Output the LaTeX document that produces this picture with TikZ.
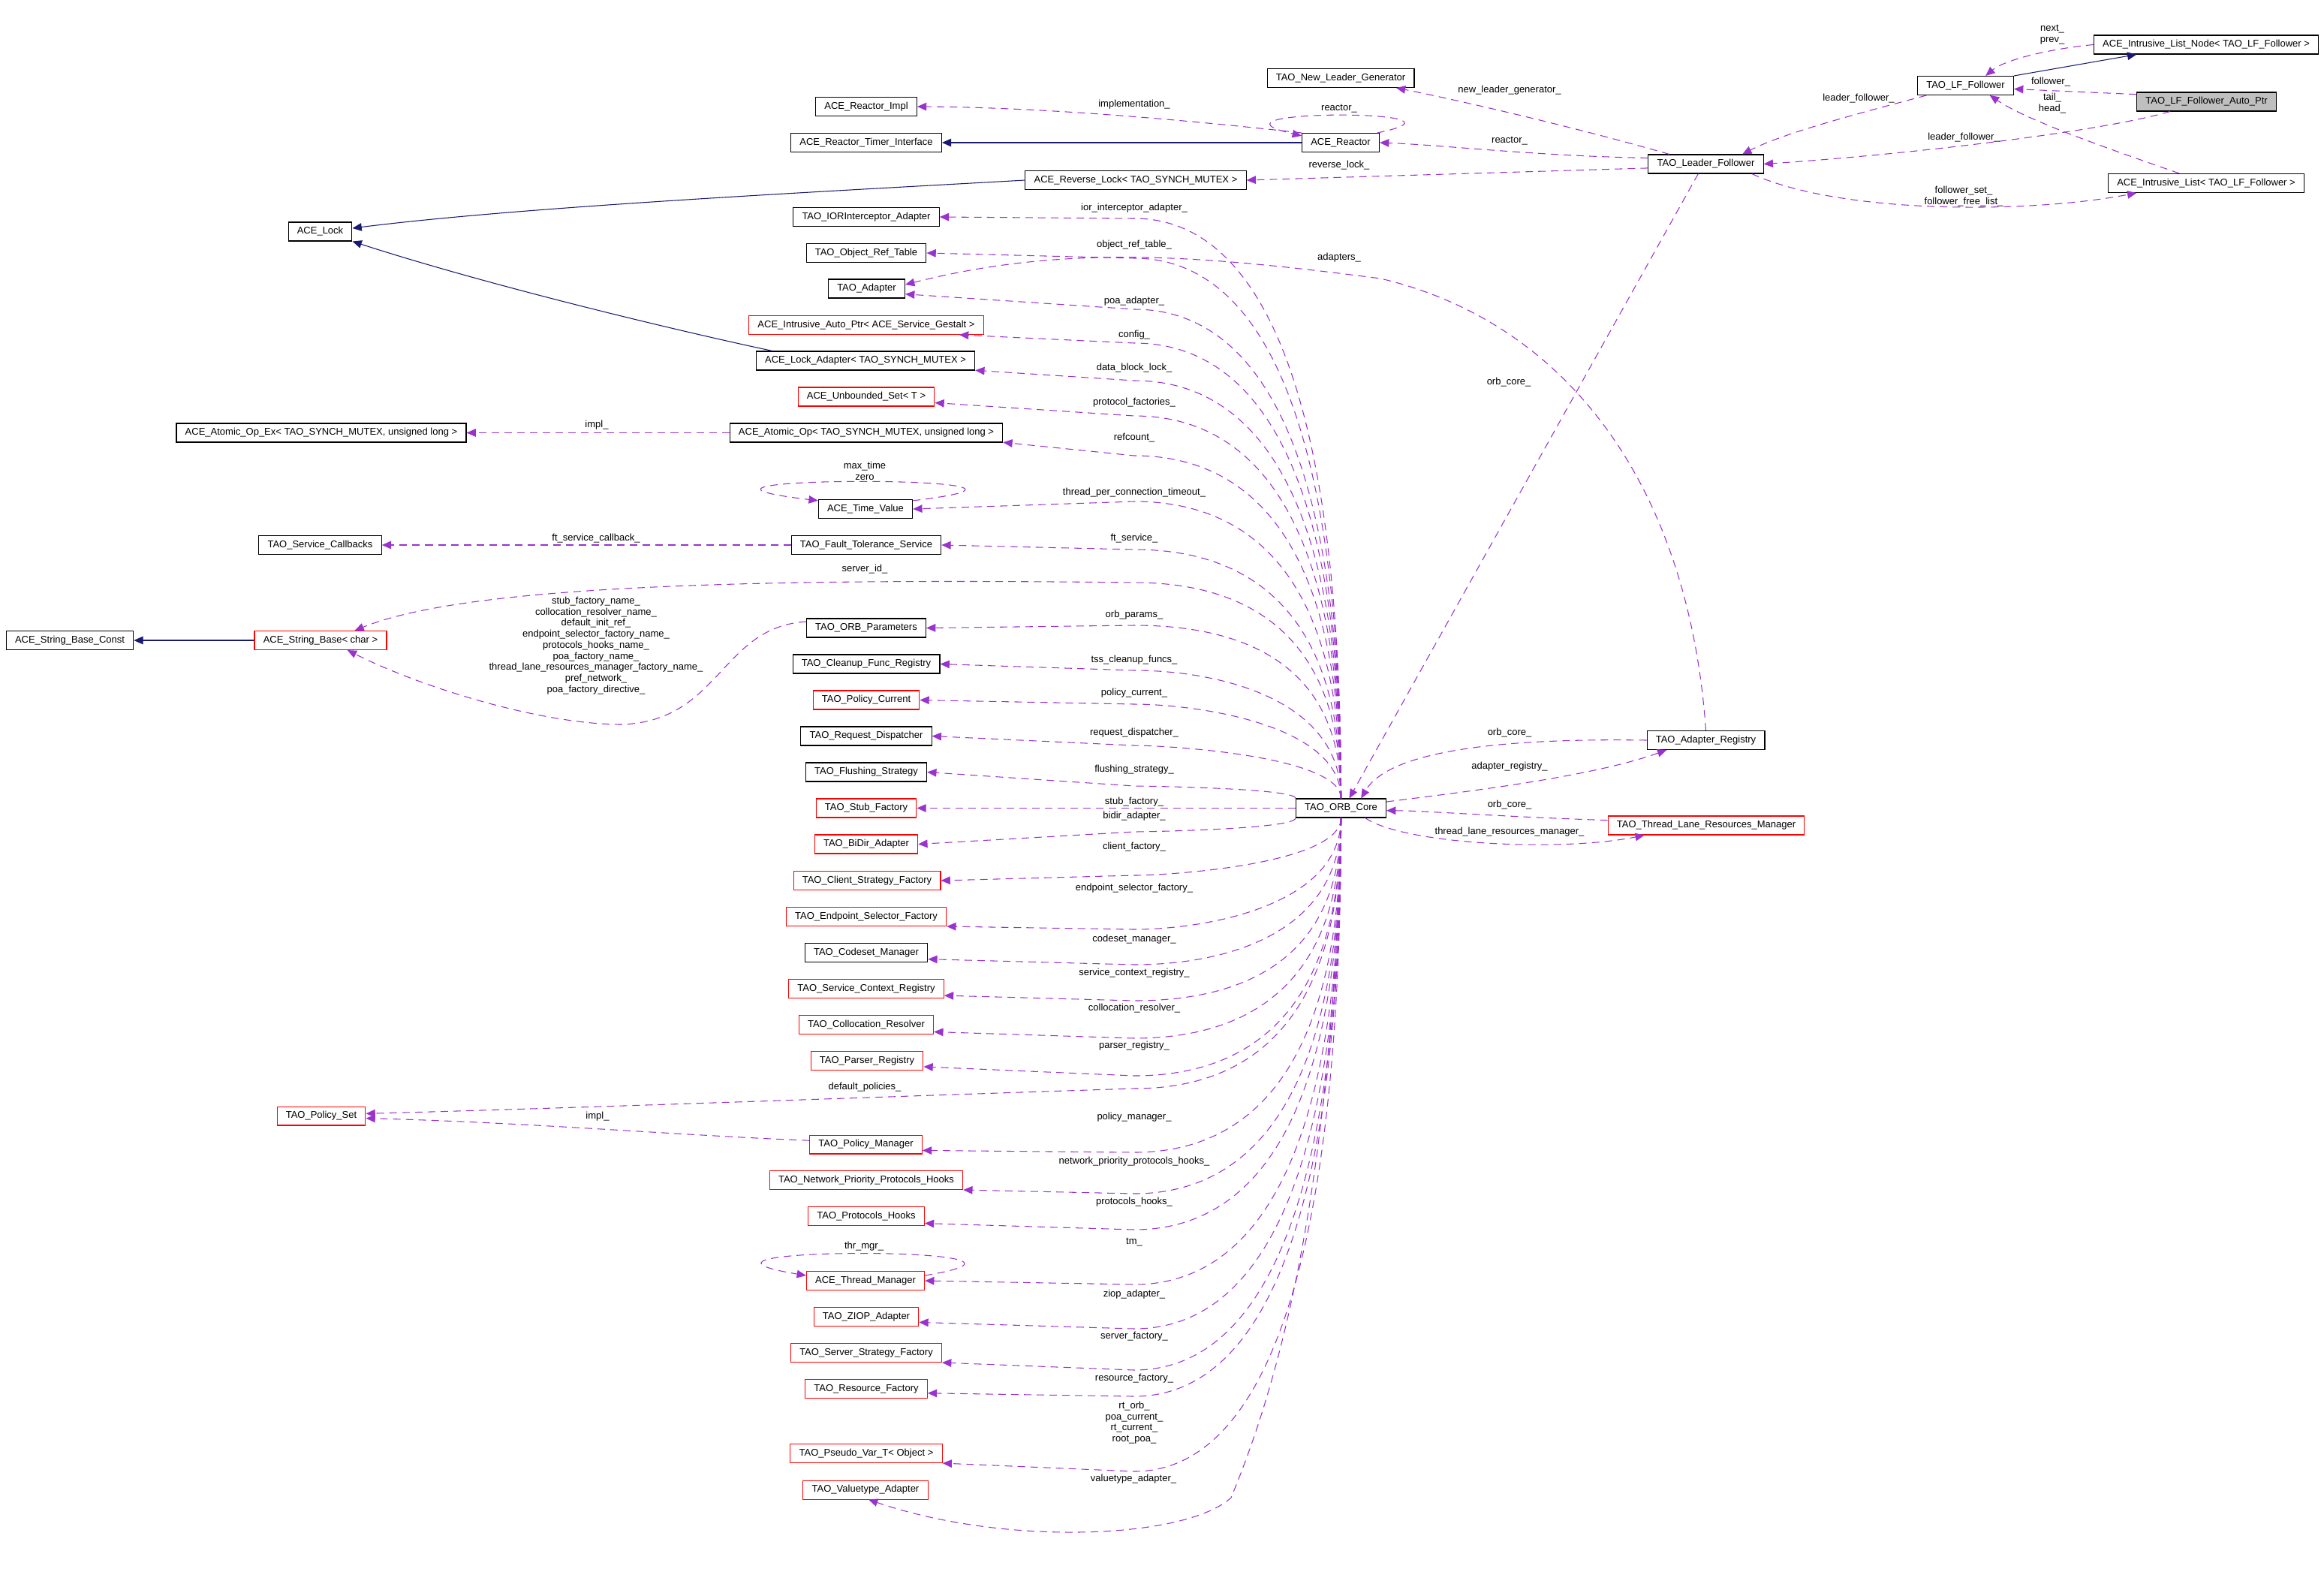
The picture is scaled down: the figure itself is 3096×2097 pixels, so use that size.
\documentclass[tikz,border=0pt]{standalone}
\usepackage{fontspec}
\setmainfont{Liberation Sans}
\usetikzlibrary{arrows.meta}
\definecolor{edgepurple}{RGB}{154,50,205}
\definecolor{inhblue}{RGB}{25,25,112}
\definecolor{nodegray}{RGB}{191,191,191}
\begin{document}
\begin{tikzpicture}[x=0.02cm,y=-0.02cm,
    every node/.style={font=\fontsize{7.4}{8.4}\selectfont},
    cls/.style={draw=black,line width=0.6pt,fill=white,minimum height=0.5cm,inner xsep=0.235cm,inner ysep=0pt},
    tpl/.style={cls,draw=red},
    focus/.style={cls,fill=nodegray},
    lbl/.style={inner sep=0pt,align=center},
    member/.style={draw=edgepurple,line width=0.6pt,dash pattern=on 5.7pt off 4pt,-{Triangle[length=7pt,width=6pt]}},
    inherit/.style={draw=inhblue,line width=0.6pt,-{Triangle[length=7pt,width=6pt]}}]
  \fill[white] (0,0) rectangle (3096,2097);
  \useasboundingbox (0,0) rectangle (3096,2097);
  \node[cls] (lfnode) at (2939,59.5) {ACE\_Intrusive\_List\_Node< TAO\_LF\_Follower >};
  \node[cls] (lf) at (2618.5,114) {TAO\_LF\_Follower};
  \node[focus] (autoptr) at (2939.5,135.5) {TAO\_LF\_Follower\_Auto\_Ptr};
  \node[cls] (leader) at (2272.5,218.5) {TAO\_Leader\_Follower};
  \node[cls] (ilist) at (2939,244) {ACE\_Intrusive\_List< TAO\_LF\_Follower >};
  \node[cls] (newleader) at (1786,104) {TAO\_New\_Leader\_Generator};
  \node[cls] (reactorimpl) at (1154,142) {ACE\_Reactor\_Impl};
  \node[cls] (timerif) at (1154,190) {ACE\_Reactor\_Timer\_Interface};
  \node[cls] (reactor) at (1786,190) {ACE\_Reactor};
  \node[cls] (revlock) at (1513,240) {ACE\_Reverse\_Lock< TAO\_SYNCH\_MUTEX >};
  \node[cls] (iorint) at (1154,289) {TAO\_IORInterceptor\_Adapter};
  \node[cls] (objref) at (1154,337) {TAO\_Object\_Ref\_Table};
  \node[cls] (lock) at (426.5,308.5) {ACE\_Lock};
  \node[cls] (adapter) at (1154.5,384.5) {TAO\_Adapter};
  \node[tpl] (gestalt) at (1154,433) {ACE\_Intrusive\_Auto\_Ptr< ACE\_Service\_Gestalt >};
  \node[cls] (lockadapt) at (1153,480.5) {ACE\_Lock\_Adapter< TAO\_SYNCH\_MUTEX >};
  \node[tpl] (unbset) at (1154,528.5) {ACE\_Unbounded\_Set< T >};
  \node[cls] (atomic) at (1154,576.5) {ACE\_Atomic\_Op< TAO\_SYNCH\_MUTEX, unsigned long >};
  \node[cls] (atomicex) at (428,576.5) {ACE\_Atomic\_Op\_Ex< TAO\_SYNCH\_MUTEX, unsigned long >};
  \node[cls] (timeval) at (1153,678) {ACE\_Time\_Value};
  \node[cls] (fts) at (1154,726) {TAO\_Fault\_Tolerance\_Service};
  \node[cls] (callbacks) at (426.5,726) {TAO\_Service\_Callbacks};
  \node[cls] (strconst) at (93,853) {ACE\_String\_Base\_Const};
  \node[tpl] (strbase) at (427,853) {ACE\_String\_Base< char >};
  \node[cls] (orbparams) at (1154,836.5) {TAO\_ORB\_Parameters};
  \node[cls] (cleanup) at (1154,884.5) {TAO\_Cleanup\_Func\_Registry};
  \node[tpl] (polcur) at (1154,932.5) {TAO\_Policy\_Current};
  \node[cls] (reqdisp) at (1154,980.5) {TAO\_Request\_Dispatcher};
  \node[cls] (flush) at (1154,1028.5) {TAO\_Flushing\_Strategy};
  \node[tpl] (stubfac) at (1154,1076.5) {TAO\_Stub\_Factory};
  \node[tpl] (bidir) at (1154,1124.5) {TAO\_BiDir\_Adapter};
  \node[tpl] (clientfac) at (1155,1173) {TAO\_Client\_Strategy\_Factory};
  \node[tpl] (endpoint) at (1154,1221) {TAO\_Endpoint\_Selector\_Factory};
  \node[cls] (codeset) at (1154,1269) {TAO\_Codeset\_Manager};
  \node[tpl] (svcctx) at (1154,1317) {TAO\_Service\_Context\_Registry};
  \node[tpl] (colloc) at (1154,1365) {TAO\_Collocation\_Resolver};
  \node[tpl] (parser) at (1155,1413) {TAO\_Parser\_Registry};
  \node[tpl] (polset) at (428,1486.5) {TAO\_Policy\_Set};
  \node[tpl] (polmgr) at (1153.5,1524.5) {TAO\_Policy\_Manager};
  \node[tpl] (netprio) at (1154,1572) {TAO\_Network\_Priority\_Protocols\_Hooks};
  \node[tpl] (prothooks) at (1154,1620) {TAO\_Protocols\_Hooks};
  \node[tpl] (thrmgr) at (1153,1706) {ACE\_Thread\_Manager};
  \node[tpl] (ziop) at (1154,1754) {TAO\_ZIOP\_Adapter};
  \node[tpl] (srvfac) at (1154,1802) {TAO\_Server\_Strategy\_Factory};
  \node[tpl] (resfac) at (1154,1850) {TAO\_Resource\_Factory};
  \node[tpl] (pseudo) at (1154,1936) {TAO\_Pseudo\_Var\_T< Object >};
  \node[tpl] (valuetype) at (1153,1984.5) {TAO\_Valuetype\_Adapter};
  \node[cls] (core) at (1786.5,1076.5) {TAO\_ORB\_Core};
  \node[cls] (adreg) at (2272.5,986) {TAO\_Adapter\_Registry};
  \node[tpl] (tlrm) at (2273,1099.5) {TAO\_Thread\_Lane\_Resources\_Manager};

  \draw[inherit] (lf.north east) -- (lfnode.188);
  \draw[member] (lfnode.west) .. controls (2730,65) and (2670,80) .. (lf.26);
  \node[lbl] (l-next) at (2734,46.5) {next\_\\prev\_};
  \draw[member] (autoptr.174) -- (lf.-4);
  \node[lbl] (l-fol) at (2732,109) {follower\_};
  \draw[member] (ilist.160) .. controls (2800,195) and (2700,160) .. (lf.-22);
  \node[lbl] (l-tail) at (2734,137.5) {tail\_\\head\_};
  \draw[member] (lf.-166) .. controls (2500,145) and (2380,175) .. (leader.15);
  \node[lbl] (l-lf1) at (2476,131) {leader\_follower\_};
  \draw[member] (autoptr.-165) .. controls (2800,175) and (2550,205) .. (leader.east);
  \node[lbl] (l-lf2) at (2616,183) {leader\_follower\_};
  \draw[member] (leader.-12) .. controls (2450,285) and (2700,285) .. (ilist.188);
  \node[lbl] (l-fset) at (2616,261.5) {follower\_set\_\\follower\_free\_list\_};
  \draw[member] (leader.165) .. controls (2100,170) and (1950,135) .. (newleader.-10);
  \node[lbl] (l-nlg) at (2011,120) {new\_leader\_generator\_};
  \draw[member] (leader.174) .. controls (2050,208) and (1920,193) .. (reactor.east);
  \node[lbl] (l-react) at (2011,188) {reactor\_};
  \draw[member] (leader.184) -- (revlock.east);
  \node[lbl] (l-rev) at (1784,220) {reverse\_lock\_};
  \draw[member] (reactor.15) .. controls (1993,145) and (1579,145) .. (reactor.170);
  \node[lbl] (l-self) at (1784,145) {reactor\_};
  \draw[member] (reactor.north west) .. controls (1600,162) and (1400,143) .. (reactorimpl.east);
  \node[lbl] (l-impl) at (1511,139) {implementation\_};
  \draw[inherit] (reactor.west) -- (timerif.east);
  \draw[inherit] (revlock.west) .. controls (1100,255) and (700,275) .. (lock.6);
  \draw[inherit] (lockadapt.174) .. controls (900,440) and (650,380) .. (lock.south east);
  \draw[member] (leader.-128) -- (core.50);
  \node[lbl] (l-oc1) at (2010,509) {orb\_core\_};
  \draw[member] (adreg.west) .. controls (2000,983) and (1850,1000) .. (core.26);
  \node[lbl] (l-oc2) at (2011,976) {orb\_core\_};
  \draw[member] (core.8) .. controls (1950,1055) and (2120,1035) .. (adreg.-166);
  \node[lbl] (l-areg) at (2011,1021) {adapter\_registry\_};
  \draw[member] (tlrm.177) .. controls (2000,1088) and (1900,1080) .. (core.-3);
  \node[lbl] (l-oc3) at (2011,1072) {orb\_core\_};
  \draw[member] (core.-22) .. controls (1870,1125) and (2080,1135) .. (tlrm.-171);
  \node[lbl] (l-tlrm) at (2011,1108) {thread\_lane\_resources\_manager\_};
  \draw[member] (adreg.north) .. controls (2250,650) and (2090,430) .. (1839,371) .. controls (1600,340) and (1420,325) .. (adapter.6);
  \node[lbl] (l-adp) at (1784,343) {adapters\_};

  \foreach \st/\tg/\an/\ly/\yl/\lab [evaluate=\ly as \v using {0.8*(1064-\ly)}, evaluate=\ly as \h using {min(137,0.6*(1064-\ly))}] in {
      north/iorint/east/291/277/ior\_interceptor\_adapter\_,
      north/objref/east/344/326/object\_ref\_table\_,
      north/adapter/-8/412/401/poa\_adapter\_,
      north/gestalt/-6/457/446/config\_,
      north/lockadapt/-5/507/490/data\_block\_lock\_,
      north/unbset/-5/554/536/protocol\_factories\_,
      north/atomic/-4/607/583/refcount\_,
      north/timeval/east/668/656/thread\_per\_connection\_timeout\_,
      north/fts/east/732/717/ft\_service\_,
      north/orbparams/east/833/819/orb\_params\_,
      north/cleanup/east/893/879/tss\_cleanup\_funcs\_,
      north/polcur/east/938/923/policy\_current\_,
      north/reqdisp/east/993/976/request\_dispatcher\_,
      north west/flush/east/1047/1025/flushing\_strategy\_} {
    \draw[member] (core.\st) .. controls +(0,-\v) and +(\h,0) .. (1511,\ly) -- (\tg.\an);
    \node[lbl] (l-\tg) at (1511,\yl) {\lab};
  }
  \foreach \st/\tg/\an/\ly/\yl/\lab [evaluate=\ly as \v using {0.8*(\ly-1089)}, evaluate=\ly as \h using {min(137,0.6*(\ly-1089))}] in {
      south west/bidir/east/1108/1087/bidir\_adapter\_,
      south/clientfac/east/1166/1128/client\_factory\_,
      south/endpoint/south east/1238/1183/endpoint\_selector\_factory\_,
      south/codeset/-6/1285/1251/codeset\_manager\_,
      south/svcctx/-5/1333/1296/service\_context\_registry\_,
      south/colloc/-6/1383/1343/collocation\_resolver\_,
      south/parser/-6/1433/1393/parser\_registry\_,
      south/polmgr/-6/1535/1488/policy\_manager\_,
      south/netprio/south east/1590/1547/network\_priority\_protocols\_hooks\_,
      south/prothooks/-7/1638/1601/protocols\_hooks\_,
      south/thrmgr/east/1711/1655/tm\_,
      south/ziop/-6/1770/1724/ziop\_adapter\_,
      south/srvfac/south east/1825/1780/server\_factory\_,
      south/resfac/-4/1860/1836/resource\_factory\_,
      south/pseudo/south east/1960/1895/rt\_orb\_\\poa\_current\_\\rt\_current\_\\root\_poa\_} {
    \draw[member] (core.\st) .. controls +(0,\v) and +(\h,0) .. (1511,\ly) -- (\tg.\an);
    \node[lbl] (l-\tg) at (1511,\yl) {\lab};
  }
  \draw[member] (core.west) -- (stubfac.east);
  \node[lbl] (l-stub) at (1511,1068) {stub\_factory\_};
  \draw[member] (core.south) .. controls (1775,1600) and (1700,1850) .. (1640,1995) .. controls (1580,2050) and (1340,2060) .. (valuetype.-73);
  \node[lbl] (l-vt) at (1510,1970) {valuetype\_adapter\_};
  \draw[member] (core.south) .. controls +(0,290) and +(137,0) .. (1511,1450) .. controls (1200,1460) and (800,1475) .. (polset.3);
  \node[lbl] (l-defpol) at (1152,1448) {default\_policies\_};
  \draw[member] (polmgr.176) .. controls (900,1512) and (700,1495) .. (polset.-3);
  \node[lbl] (l-pimpl) at (796,1487) {impl\_};
  \draw[member] (thrmgr.5) .. controls (1465,1660) and (841,1660) .. (thrmgr.175);
  \node[lbl] (l-thr) at (1151,1660) {thr\_mgr\_};
  \draw[member] (core.north) .. controls +(0,-230) and +(137,0) .. (1511,776) .. controls (1000,770) and (620,780) .. (strbase.16);
  \node[lbl] (l-sid) at (1152,758) {server\_id\_};
  \draw[member] (orbparams.174) .. controls (960,835) and (960,960) .. (829,965) .. controls (720,965) and (560,915) .. (strbase.-20);
  \node[lbl] (l-names) at (794,860) {stub\_factory\_name\_\\collocation\_resolver\_name\_\\default\_init\_ref\_\\endpoint\_selector\_factory\_name\_\\protocols\_hooks\_name\_\\poa\_factory\_name\_\\thread\_lane\_resources\_manager\_factory\_name\_\\pref\_network\_\\poa\_factory\_directive\_};
  \draw[inherit] (strbase.west) -- (strconst.east);
  \draw[member] (timeval.10) .. controls (1501,633) and (805,633) .. (timeval.170);
  \node[lbl] (l-tv) at (1152,627) {max\_time\\zero};
  \draw[member] (fts.west) -- (callbacks.east);
  \node[lbl] (l-ftcb) at (794,717) {ft\_service\_callback\_};
  \draw[member] (atomic.west) -- (atomicex.east);
  \node[lbl] (l-aimpl) at (795,566) {impl\_};
\end{tikzpicture}
\end{document}
